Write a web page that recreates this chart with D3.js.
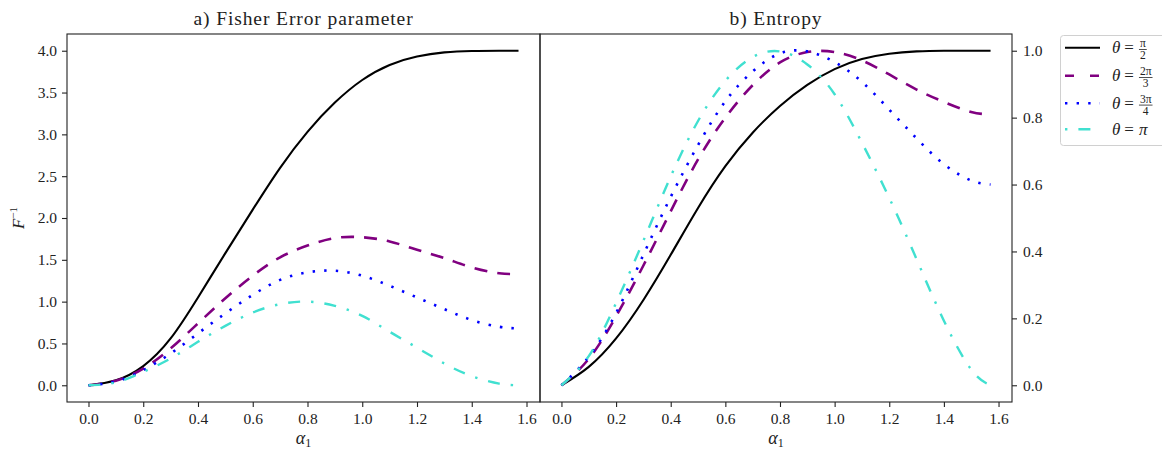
<!DOCTYPE html>
<html>
<head>
<meta charset="utf-8">
<script src="https://cdn.jsdelivr.net/npm/d3@7"></script>
<style>
  body { margin: 0; background: #fff; }
  svg { display: block; }
</style>
</head>
<body>
<script>
// values
const alpha = [0, 0.1, 0.2, 0.3, 0.4, 0.5, 0.6, 0.7, 0.8, 0.9, 1.0, 1.1, 1.2, 1.3, 1.4, 1.5, 1.5708];

const fisherHalfPi        = [0, 0.06, 0.23, 0.56, 1.05, 1.58, 2.10, 2.60, 3.03, 3.38, 3.65, 3.83, 3.93, 3.98, 3.997, 4.0, 4.0];
const fisherTwoThirdsPi   = [0, 0.055, 0.20, 0.44, 0.74, 1.04, 1.31, 1.53, 1.67, 1.76, 1.77, 1.72, 1.62, 1.52, 1.41, 1.34, 1.33];
const fisherThreeQuartPi  = [0, 0.045, 0.18, 0.38, 0.62, 0.86, 1.08, 1.26, 1.35, 1.37, 1.31, 1.19, 1.05, 0.91, 0.78, 0.70, 0.68];
const fisherPi            = [0, 0.035, 0.16, 0.32, 0.52, 0.71, 0.87, 0.97, 1.0, 0.95, 0.83, 0.64, 0.45, 0.26, 0.11, 0.02, 0.0];

const entropyHalfPi       = [0, 0.055, 0.14, 0.255, 0.39, 0.53, 0.655, 0.755, 0.835, 0.898, 0.945, 0.975, 0.991, 0.998, 1.0, 1.0, 1.0];
const entropyTwoThirdsPi  = [0, 0.079, 0.206, 0.358, 0.52, 0.675, 0.80, 0.897, 0.965, 0.996, 0.996, 0.971, 0.929, 0.884, 0.847, 0.817, 0.81];
const entropyThreeQuartPi = [0, 0.085, 0.216, 0.39, 0.563, 0.718, 0.849, 0.938, 0.992, 0.998, 0.966, 0.907, 0.824, 0.738, 0.661, 0.612, 0.60];
const entropyPi           = [0, 0.087, 0.246, 0.432, 0.624, 0.79, 0.91, 0.981, 0.998, 0.959, 0.87, 0.725, 0.56, 0.377, 0.193, 0.047, 0.0];

const xTicks = [0.0, 0.2, 0.4, 0.6, 0.8, 1.0, 1.2, 1.4, 1.6];
const fisherTicks = [0.0, 0.5, 1.0, 1.5, 2.0, 2.5, 3.0, 3.5, 4.0];
const entropyTicks = [0.0, 0.2, 0.4, 0.6, 0.8, 1.0];

const thetaNum = ["π", "2π", "3π", ""];
const thetaDen = ["2", "3", "4", ""];

const titles = ["a) Fisher Error parameter", "b) Entropy"];

// styles (kept apart from the data)
const colors = ["#000000", "#800080", "#0000ff", "#40e0d0"];
const dashes = [null, "13,10", "2.4,9.2", "12,11,2.4,11"];
const legendDashes = [null, "9,16", "2.4,9.2", "2.4,11,12,11"];
const widths = [2.1, 2.6, 2.6, 2.4];

const W = 1162, H = 451;
const FONT = "'Liberation Serif', 'DejaVu Serif', serif";
const yTop = 34, yBottom = 402;
const panels = [{x0: 67, x1: 540}, {x0: 540, x1: 1012}];
const xDomain = [-0.0785, 1.6493];

const svg = d3.select("body").append("svg")
  .attr("width", W).attr("height", H);

const fisherSeries = [fisherHalfPi, fisherTwoThirdsPi, fisherThreeQuartPi, fisherPi];
const entropySeries = [entropyHalfPi, entropyTwoThirdsPi, entropyThreeQuartPi, entropyPi];

function styleAxis(g) {
  g.select(".domain").remove();
  g.selectAll("line").attr("stroke", "#222").attr("stroke-width", 1.1);
  g.selectAll("text").attr("font-family", FONT).attr("font-size", 15.5).attr("fill", "#222");
}

function drawPanel(p, idx, yDomain, yTicks, series, yOrient) {
  const x = d3.scaleLinear().domain(xDomain).range([p.x0, p.x1]);
  const y = d3.scaleLinear().domain(yDomain).range([yBottom, yTop]);

  const line = d3.line()
    .x((d, i) => x(alpha[i]))
    .y(d => y(d))
    .curve(d3.curveNatural);

  const g = svg.append("g");

  series.forEach((s, i) => {
    g.append("path")
      .attr("d", line(s))
      .attr("fill", "none")
      .attr("stroke", colors[i])
      .attr("stroke-width", widths[i])
      .attr("stroke-dasharray", dashes[i])
      .attr("stroke-linecap", "butt");
  });

  // spines
  g.append("rect")
    .attr("x", p.x0).attr("y", yTop)
    .attr("width", p.x1 - p.x0).attr("height", yBottom - yTop)
    .attr("fill", "none").attr("stroke", "#222").attr("stroke-width", 1.1);

  g.append("g")
    .attr("transform", `translate(0,${yBottom})`)
    .call(d3.axisBottom(x).tickValues(xTicks).tickFormat(d3.format(".1f")).tickSize(5).tickPadding(6))
    .call(styleAxis);

  if (yOrient === "left") {
    g.append("g")
      .attr("transform", `translate(${p.x0},0)`)
      .call(d3.axisLeft(y).tickValues(yTicks).tickFormat(d3.format(".1f")).tickSize(5).tickPadding(5))
      .call(styleAxis);
  } else {
    g.append("g")
      .attr("transform", `translate(${p.x1},0)`)
      .call(d3.axisRight(y).tickValues(yTicks).tickFormat(d3.format(".1f")).tickSize(5).tickPadding(6))
      .call(styleAxis);
  }

  const cx = (p.x0 + p.x1) / 2;
  g.append("text")
    .attr("x", cx).attr("y", 25)
    .attr("text-anchor", "middle")
    .attr("font-family", FONT).attr("font-size", 19.5)
    .attr("letter-spacing", 0.9).attr("fill", "#222")
    .text(titles[idx]);

  const xl = g.append("text")
    .attr("x", cx).attr("y", 444)
    .attr("text-anchor", "middle")
    .attr("font-family", FONT).attr("font-size", 18).attr("fill", "#222");
  xl.append("tspan").attr("font-style", "italic").text("α");
  xl.append("tspan").attr("font-size", 12).attr("dy", 3).text("1");
}

drawPanel(panels[0], 0, [-0.2, 4.2], fisherTicks, fisherSeries, "left");
drawPanel(panels[1], 1, [-0.05, 1.05], entropyTicks, entropySeries, "right");

// y label F^{-1}
const yl = svg.append("text")
  .attr("transform", "translate(24,218) rotate(-90)")
  .attr("text-anchor", "middle")
  .attr("font-family", FONT).attr("font-size", 17).attr("fill", "#222");
yl.append("tspan").attr("font-style", "italic").text("F");
yl.append("tspan").attr("font-size", 11).attr("dy", -7).text("−1");

// legend
const lg = svg.append("g");
lg.append("rect")
  .attr("x", 1060.5).attr("y", 35.5)
  .attr("width", 130).attr("height", 110)
  .attr("rx", 3)
  .attr("fill", "#fff").attr("fill-opacity", 0.8)
  .attr("stroke", "#d0d0d0").attr("stroke-width", 1);

const rowY = [47.7, 75.7, 103.3, 129.3];
colors.forEach((c, i) => {
  const cy = rowY[i];
  lg.append("line")
    .attr("x1", 1065).attr("x2", 1100)
    .attr("y1", cy).attr("y2", cy)
    .attr("stroke", c)
    .attr("stroke-width", widths[i])
    .attr("stroke-dasharray", legendDashes[i]);

  const t = lg.append("text")
    .attr("x", 1112).attr("y", cy + 5.5)
    .attr("font-family", FONT).attr("font-size", 17).attr("fill", "#222");
  t.append("tspan").attr("font-style", "italic").text("θ");
  t.append("tspan").attr("dx", 4).text("=");
  if (thetaNum[i] === "") {
    t.append("tspan").attr("dx", 5).attr("font-style", "italic").text("π");
  } else {
    const fx = 1112 + t.node().getBBox().width + 5;
    const num = lg.append("text")
      .attr("font-family", FONT).attr("font-size", 11.5).attr("fill", "#222")
      .attr("text-anchor", "middle")
      .attr("y", cy - 0.5)
      .text(thetaNum[i]);
    const den = lg.append("text")
      .attr("font-family", FONT).attr("font-size", 11.5).attr("fill", "#222")
      .attr("text-anchor", "middle")
      .attr("y", cy + 11.5)
      .text(thetaDen[i]);
    const w = Math.max(num.node().getComputedTextLength(), den.node().getComputedTextLength()) + 2;
    num.attr("x", fx + w / 2);
    den.attr("x", fx + w / 2);
    lg.append("line")
      .attr("x1", fx).attr("x2", fx + w)
      .attr("y1", cy + 1.8).attr("y2", cy + 1.8)
      .attr("stroke", "#222").attr("stroke-width", 0.8);
  }
});
</script>
</body>
</html>
